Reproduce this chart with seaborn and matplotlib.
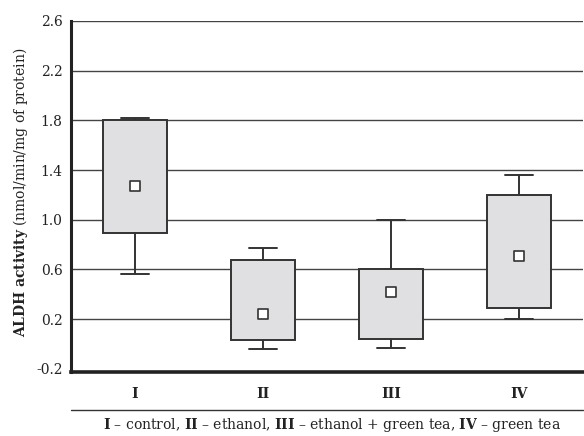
import numpy as np
import pandas as pd
import matplotlib
matplotlib.use("Agg")
import matplotlib.pyplot as plt
from matplotlib.lines import Line2D
import seaborn as sns

# ---- data ----
categories = ["I", "II", "III", "IV"]
whisker_low = [0.56, -0.04, -0.03, 0.20]
quartile_1 = [0.89, 0.03, 0.04, 0.29]
median_val = [1.27, 0.24, 0.42, 0.71]
quartile_3 = [1.80, 0.68, 0.60, 1.20]
whisker_high = [1.82, 0.77, 1.00, 1.36]
y_ticks = [-0.2, 0.2, 0.6, 1.0, 1.4, 1.8, 2.2, 2.6]
caption = (r"$\mathbf{I}$ – control, $\mathbf{II}$ – ethanol, "
           r"$\mathbf{III}$ – ethanol + green tea, $\mathbf{IV}$ – green tea")
y_label = r"$\mathbf{ALDH\ activity}$ (nmol/min/mg of protein)"

rows = []
for c, a, b, m, d, e in zip(categories, whisker_low, quartile_1, median_val,
                            quartile_3, whisker_high):
    for v in (a, b, m, d, e):
        rows.append({"group": c, "value": v})
df = pd.DataFrame(rows)
med_df = pd.DataFrame({"group": categories, "value": median_val})

sns.set_style("white")
serif = "DejaVu Serif"
plt.rcParams["font.family"] = [serif]
plt.rcParams["mathtext.fontset"] = "custom"
plt.rcParams["mathtext.rm"] = serif
plt.rcParams["mathtext.bf"] = serif + ":bold"
plt.rcParams["mathtext.it"] = serif + ":italic"

edge = "#333333"
fig = plt.figure(figsize=(5.84, 4.36), dpi=100)
ax = fig.add_axes([71 / 584, 1 - 372 / 436, 512 / 584, 351 / 436])

sns.boxplot(data=df, x="group", y="value", order=categories, ax=ax,
            width=0.5, whis=(0, 100), color="#e0e0e2", linecolor=edge,
            linewidth=1.4, showfliers=False,
            medianprops={"visible": False}, zorder=3)

# shrink caps a little
for ln in ax.lines:
    xd = np.asarray(ln.get_xdata(), dtype=float)
    yd = np.asarray(ln.get_ydata(), dtype=float)
    if len(xd) == 2 and yd[0] == yd[1] and abs(xd[1] - xd[0]) < 0.3:
        c = xd.mean()
        ln.set_xdata([c - 0.11, c + 0.11])

sns.scatterplot(data=med_df, x="group", y="value", marker="s", s=45,
                color="white", edgecolor=edge, linewidth=1.2, ax=ax,
                zorder=5, legend=False)

ax.set_xlim(-0.5, 3.5)
ax.set_ylim(-0.225, 2.6)
ax.set_yticks(y_ticks)
ax.set_yticklabels([f"{t:.1f}" for t in y_ticks])
for t in y_ticks[1:]:
    ax.axhline(t, color="#444444", lw=1.0, zorder=1)

ax.tick_params(axis="y", length=0, pad=6, labelsize=10, colors="#222222")
ax.tick_params(axis="x", length=0, pad=11, labelsize=10, colors="#222222")
for lab in ax.get_xticklabels():
    lab.set_fontweight("bold")
ax.set_xlabel("")
ax.set_ylabel("")

for s in ("top", "right"):
    ax.spines[s].set_visible(False)
ax.spines["left"].set_linewidth(2.2)
ax.spines["left"].set_color("#222222")
ax.spines["bottom"].set_linewidth(2.6)
ax.spines["bottom"].set_color("#222222")

fig.text(21 / 584, 1 - 192 / 436, y_label, rotation=90, ha="center",
         va="center", fontsize=10, color="#222222")
fig.add_artist(Line2D([71 / 584, 583 / 584], [1 - 410 / 436] * 2,
                      transform=fig.transFigure, color="#333333", lw=1.0))
fig.text(332 / 584, 1 - 425 / 436, caption, ha="center", va="center",
         fontsize=10, color="#222222")

fig.savefig("out.png", dpi=100)
